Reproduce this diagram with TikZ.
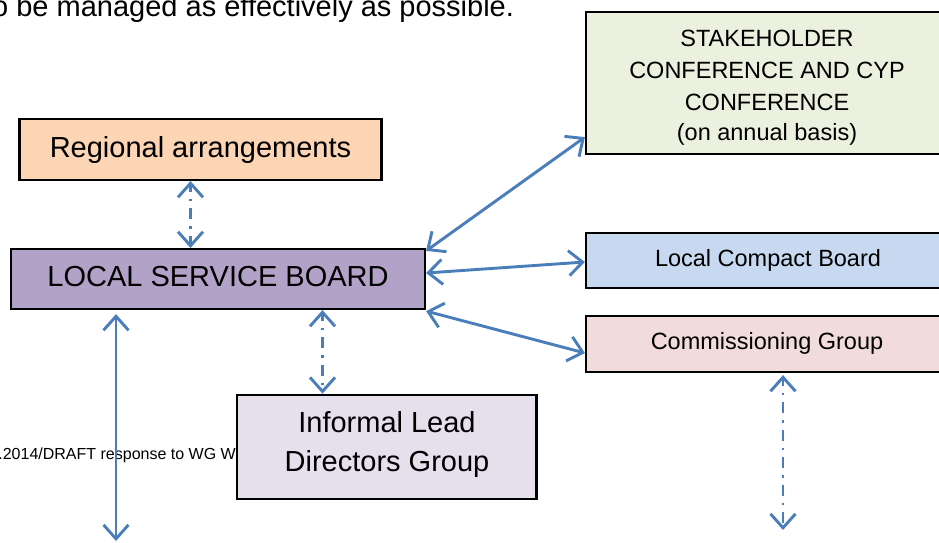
\documentclass[tikz,border=0pt]{standalone}
\usepackage{fontspec}
\setmainfont{Liberation Sans}
\usetikzlibrary{arrows.meta,calc}
\definecolor{arrowblue}{HTML}{4A7EBB}
\definecolor{peach}{HTML}{FCD5B5}
\definecolor{lsbpurple}{HTML}{B3A2C7}
\definecolor{lavender}{HTML}{E6E0EC}
\definecolor{palegreen}{HTML}{EBF1DE}
\definecolor{paleblue}{HTML}{C6D9F1}
\definecolor{palepink}{HTML}{F2DCDB}
\tikzset{
  box/.style={draw=black, line width=2.2pt, inner sep=0pt, rectangle},
  bigtxt/.style={inner sep=0pt, anchor=base, font=\fontsize{29}{35}\selectfont},
  midtxt/.style={inner sep=0pt, anchor=base, font=\fontsize{23.5}{28}\selectfont},
  conn/.style={draw=arrowblue, line width=2.9pt, >={Straight Barb[length=14pt,width=25pt]}, <->},
  dashconn/.style={conn, dash pattern=on 11pt off 7pt on 2.5pt off 7pt, dash phase=4pt},
}
\begin{document}
\begin{tikzpicture}[x=1pt,y=-1pt]
\clip (0,0) rectangle (939,542);
\fill[white] (0,0) rectangle (939,542);

% background text
\node[bigtxt, anchor=base west] (toptext) at (-8,16.5) {o be managed as effectively as possible.};
\node[inner sep=0pt, anchor=base east, font=\fontsize{16}{19}\selectfont] (footer) at (236,459.3) {.2014/DRAFT response to WG W};

% boxes
\node[box, fill=peach, minimum width=362pt, minimum height=61pt] (reg) at (200.5,149.5) {};
\node[box, fill=lsbpurple, minimum width=414pt, minimum height=60pt] (lsb) at (218,279) {};
\node[box, fill=lavender, minimum width=299.5pt, minimum height=104.6pt] (ild) at (386.75,447) {};
\node[box, fill=palegreen, minimum width=362pt, minimum height=142pt] (stk) at (767,83) {};
\node[box, fill=paleblue, minimum width=362pt, minimum height=55pt] (lcb) at (767,260.5) {};
\node[box, fill=palepink, minimum width=362pt, minimum height=56pt] (cg) at (767,344) {};

% texts
\node[bigtxt] (regT) at (200.5,157.3) {Regional arrangements};
\node[bigtxt] (lsbT) at (218,286.7) {LOCAL SERVICE BOARD};
\node[bigtxt] (ildT1) at (387,432.7) {Informal Lead};
\node[bigtxt] (ildT2) at (387,471) {Directors Group};
\node[midtxt] (stkT1) at (767,46.7) {STAKEHOLDER};
\node[midtxt] (stkT2) at (767,78) {CONFERENCE AND CYP};
\node[midtxt] (stkT3) at (767,110) {CONFERENCE};
\node[midtxt] (stkT4) at (767,140.5) {(on annual basis)};
\node[midtxt] (lcbT) at (768,266) {Local Compact Board};
\node[midtxt] (cgT) at (767,349.5) {Commissioning Group};

% connectors
\coordinate (bottomend) at (116,541);
\coordinate (cgend) at (783,530);
\draw[conn] ($(lsb.south -| bottomend)+(0,4)$) -- (bottomend);
\draw[dashconn] (reg.south -| 190.5,0) -- (lsb.north -| 190.5,0);
\draw[dashconn] (lsb.south -| 322.5,0) -- (ild.north -| 322.5,0);
\draw[dashconn] ($(cg.south -| cgend)+(0,2)$) -- (cgend);
\draw[conn] ($(lsb.north east)+(0,3)$) -- ($(stk.south west)+(0,-18)$);
\draw[conn] ($(lsb.east)+(0,-6)$) -- ($(lcb.west)+(0,1.5)$);
\draw[conn] ($(lsb.south east)+(0,1)$) -- ($(cg.west)+(0,9)$);
\end{tikzpicture}
\end{document}
